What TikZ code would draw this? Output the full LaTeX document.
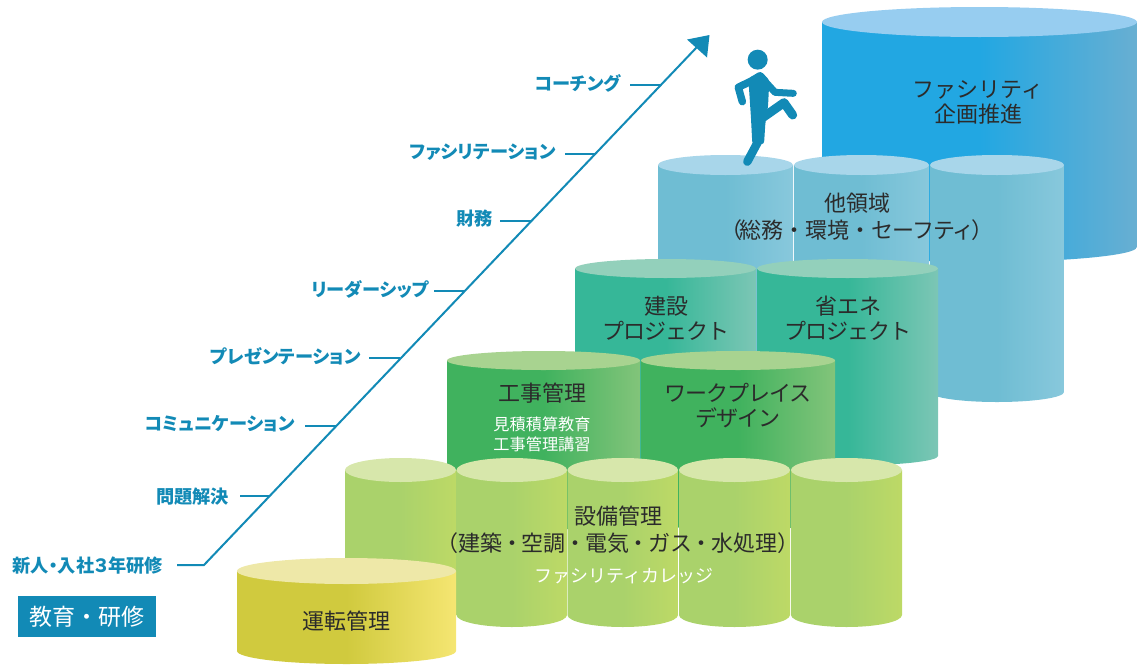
\documentclass[tikz,border=0pt]{standalone}
\usepackage{fontspec}
\setmainfont{Noto Sans CJK JP}
\newfontfamily\jpp[RawFeature=+palt]{Noto Sans CJK JP}
\definecolor{ink}{HTML}{2B2B2B}
\definecolor{brand}{HTML}{128AB6}
\definecolor{blueL}{HTML}{22A7E2}\definecolor{blueR}{HTML}{68AFD2}\definecolor{blueC}{HTML}{97CDF0}
\definecolor{skyL}{HTML}{6FBDD3}\definecolor{skyR}{HTML}{88C8DC}\definecolor{skyC}{HTML}{A8D6EA}
\definecolor{tealL}{HTML}{36B798}\definecolor{tealR}{HTML}{7CC6B5}\definecolor{tealC}{HTML}{93D0BB}
\definecolor{grnL}{HTML}{40B25E}\definecolor{grnR}{HTML}{82C47A}\definecolor{grnC}{HTML}{A8D390}
\definecolor{limeL}{HTML}{AAD26B}\definecolor{limeR}{HTML}{BDD966}\definecolor{limeC}{HTML}{D7E7AB}
\definecolor{yelL}{HTML}{D0CA3E}\definecolor{yelR}{HTML}{F5E672}\definecolor{yelC}{HTML}{EEE8A8}
\newcommand{\cyl}[6]{% xl, xr, rim y, base y, ry, colour stem
  \pgfmathsetmacro{\rxx}{(#2-#1)/2}\pgfmathsetmacro{\xmm}{(#1+#2)/2}
  \shade[left color=#6L,right color=#6R,middle color=#6L]
    (#1,#3) -- (#1,#4) arc[start angle=180,end angle=0,x radius=\rxx,y radius=#5] -- (#2,#3) -- cycle;
  \fill[#6C] (\xmm,#3) ellipse[x radius=\rxx,y radius=#5];
}
\newcommand{\nd}{\kern-1.4pt・\kern-1.4pt}
\tikzset{
  x=1pt,y=-1pt,
  title/.style={text=ink,font=\fontsize{22}{25}\selectfont,align=center,inner sep=0pt},
  whitetext/.style={text=white,align=center,inner sep=0pt},
  skill/.style={text=brand,font=\jpp\fontsize{18.2}{20}\selectfont\bfseries,anchor=east,inner sep=0pt},
  path line/.style={draw=brand,line width=2pt},
}
\begin{document}
\begin{tikzpicture}
\useasboundingbox (0,0) rectangle (1137,664);
\clip (0,0) rectangle (1137,664);
% cylinders
\cyl{822}{1137}{22}{247}{15}{blue}
\cyl{658}{793}{165}{392}{10}{sky}
\cyl{794}{929}{165}{392}{10}{sky}
\cyl{930}{1064}{165}{392}{10}{sky}
\cyl{575}{756}{268.5}{456}{9.5}{teal}
\cyl{757}{938}{268.5}{456}{9.5}{teal}
\cyl{447}{640}{360.5}{520}{9.5}{grn}
\cyl{641}{835}{360.5}{520}{9.5}{grn}
\cyl{345}{456}{470}{615}{12}{lime}
\cyl{456.5}{567}{470}{615}{12}{lime}
\cyl{567.5}{678}{470}{615}{12}{lime}
\cyl{679}{790}{470}{615}{12}{lime}
\cyl{791}{902}{470}{615}{12}{lime}
\cyl{237}{456}{571}{651}{13}{yel}
% cylinder texts
\node[title,font=\fontsize{22}{27}\selectfont] (n2) at (857,216.5) {他領域\\（\kern-3pt総務・環境・{\addfontfeatures{LetterSpace=-4}セーフティ}\kern-3pt）};
\node[title] (n1) at (978,102.5) {ファシリティ\\企画推進};
\node[title,font=\addfontfeatures{LetterSpace=-4.5}\fontsize{22}{25}\selectfont] (n3) at (666,318) {{\addfontfeatures{LetterSpace=0}建設}\\プロジェクト};
\node[title,font=\addfontfeatures{LetterSpace=-4.5}\fontsize{22}{25}\selectfont] (n4) at (848,318) {{\addfontfeatures{LetterSpace=0}省エネ}\\プロジェクト};
\node[title] (n5) at (542,393) {工事管理};
\node[whitetext,font=\fontsize{16.2}{20}\selectfont] (n6) at (542,434) {見積積算教育\\工事管理講習};
\node[title,font=\addfontfeatures{LetterSpace=-5}\fontsize{22}{25}\selectfont] (n7) at (738,405.5) {ワークプレイス\\デザイン};
\node[title,font=\fontsize{22}{27}\selectfont] (n8) at (618,530) {設備管理\\（建築\nd 空調\nd 電気\nd ガス\nd 水処理）};
\node[whitetext,font=\fontsize{18}{20}\selectfont] (n9) at (624,576) {ファシリティカレッジ};
\node[title] (n10) at (346,621) {運転管理};
% skill labels
\node[skill] (s0) at (163,566) {新人・入社３年研修};
\node[skill] (s1) at (229,497) {問題解決};
\node[skill] (s2) at (295,424) {コミュニケーション};
\node[skill] (s3) at (361,356) {プレゼンテーション};
\node[skill] (s4) at (429,289) {リーダーシップ};
\node[skill] (s5) at (493,219) {財務};
\node[skill] (s6) at (556,152) {ファシリテーション};
\node[skill] (s7) at (621,83) {コーチング};
% ladder
\coordinate (a0) at (177,565); \coordinate (b0) at (204,565);
\coordinate (tip) at (697,47);
\coordinate (a1) at (240,496); \coordinate (b1) at (269,496);
\coordinate (a2) at (305,426); \coordinate (b2) at (336,426);
\coordinate (a3) at (369,358); \coordinate (b3) at (400,358);
\coordinate (a4) at (434,291); \coordinate (b4) at (465,291);
\coordinate (a5) at (500,221); \coordinate (b5) at (531,221);
\coordinate (a6) at (565,154); \coordinate (b6) at (596,154);
\coordinate (a7) at (630,85);  \coordinate (b7) at (661,85);
\draw[path line] (a0) -- (b0) -- (tip);
\foreach \i in {1,...,7} \draw[path line] (a\i) -- (b\i);
\fill[brand] (709.5,35) -- (687,39.5) -- (707,57.5) -- cycle;
% badge
\node[fill=brand,text=white,font=\fontsize{23}{25}\selectfont,minimum width=138pt,minimum height=41pt,inner sep=0pt] (badge) at (87,616.5) {教育・研修};
% runner
\begin{scope}[shift={(720,35)},x=0.3333pt,y=-0.3333pt,brand,fill=brand]
  \fill (113,74) circle[radius=10pt];
  \draw[line width=7.5pt,line cap=round,line join=round] (100,135) -- (55,157) -- (67,200);
  \draw[line width=7pt,line cap=round,line join=round] (125,128) -- (165,172) -- (220,175);
  \draw[line width=9pt,line cap=round,line join=round] (125,250) -- (192,203) -- (218,240);
  \fill[rounded corners=3pt] (85,130) -- (122,108) -- (148,135) -- (144,215) -- (136,265) -- (132,328) -- (97,328) -- (93,250) -- cycle;
  \draw[line width=8.5pt,line cap=round] (113,322) -- (82,380);
\end{scope}
\end{tikzpicture}
\end{document}
